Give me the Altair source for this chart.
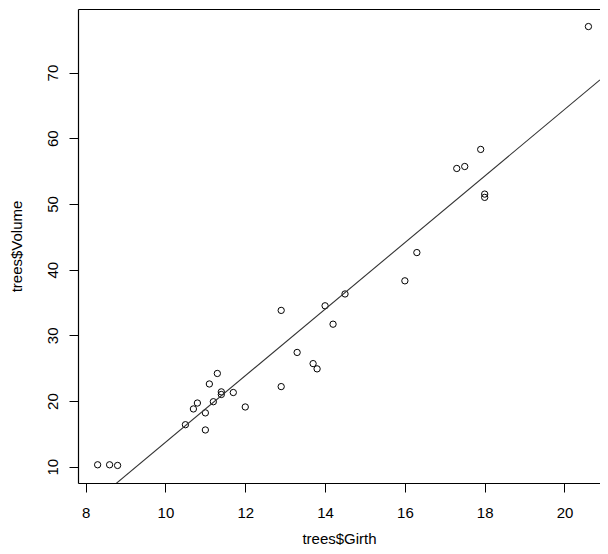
import altair as alt
import pandas as pd

girth = [8.3, 8.6, 8.8, 10.5, 10.7, 10.8, 11.0, 11.0, 11.1, 11.2, 11.3, 11.4, 11.4,
         11.7, 12.0, 12.9, 12.9, 13.3, 13.7, 13.8, 14.0, 14.2, 14.5, 16.0, 16.3,
         17.3, 17.5, 17.9, 18.0, 18.0, 20.6]
volume = [10.3, 10.3, 10.2, 16.4, 18.8, 19.7, 15.6, 18.2, 22.6, 19.9, 24.2, 21.0,
          21.4, 21.3, 19.1, 22.2, 33.8, 27.4, 25.7, 24.9, 34.5, 31.7, 36.3, 38.3,
          42.6, 55.4, 55.7, 58.3, 51.5, 51.0, 77.0]
x_ticks = [8, 10, 12, 14, 16, 18, 20]
y_ticks = [10, 20, 30, 40, 50, 60, 70]

df = pd.DataFrame({"Girth": girth, "Volume": volume})

# visible part of the R plot region (right side cropped in the reference)
x_dom = [7.808, 20.89]
y_dom = [7.528, 79.672]
FONT = "Liberation Sans"

x_scale = alt.Scale(domain=x_dom, nice=False, zero=False)
y_scale = alt.Scale(domain=y_dom, nice=False, zero=False)

x_enc = alt.X("Girth:Q", scale=x_scale,
              axis=alt.Axis(values=x_ticks, title="trees$Girth", grid=False,
                            domain=True, domainColor="black", domainWidth=1.2,
                            tickSize=9, tickColor="black", tickWidth=1,
                            labelFontSize=15, labelFont=FONT, labelColor="black",
                            labelBaseline="alphabetic", labelPadding=25,
                            labelFlush=False,
                            titleFontSize=15, titleFont=FONT, titleFontWeight="normal",
                            titleColor="black", titleY=55, titleBaseline="middle"))
y_enc = alt.Y("Volume:Q", scale=y_scale,
              axis=alt.Axis(values=y_ticks, title="trees$Volume", grid=False,
                            domain=True, domainColor="black", domainWidth=1.2,
                            tickSize=9, tickColor="black", tickWidth=1,
                            labelFontSize=15, labelFont=FONT, labelColor="black",
                            labelAngle=-90, labelAlign="center",
                            labelBaseline="alphabetic", labelPadding=12,
                            labelFlush=False,
                            titleFontSize=15, titleFont=FONT, titleFontWeight="normal",
                            titleColor="black", titleX=-62, titleBaseline="middle",
                            titleAngle=-90))

points = alt.Chart(df).mark_point(shape="circle", filled=False, color="black",
                                  strokeWidth=1, size=40, opacity=1).encode(
    x=x_enc, y=y_enc)

line = alt.Chart(df).transform_regression(
    "Girth", "Volume", extent=x_dom
).mark_line(color="#333333", strokeWidth=1.1, clip=True).encode(
    x=alt.X("Girth:Q", scale=x_scale,
            axis=alt.Axis(orient="top", title=None, labels=False, ticks=False,
                          grid=False, domain=True, domainColor="black",
                          domainWidth=1.2)),
    y=alt.Y("Volume:Q", scale=y_scale))

chart = alt.layer(points, line).resolve_axis(x="independent").properties(
    width=522, height=474,
    autosize=alt.AutoSizeParams(type="none"),
    padding={"left": 70, "top": 1, "right": 0, "bottom": 64},
).configure_view(stroke=None).configure(background="white")

chart.save("out.html", embed_options={"renderer": "svg", "actions": False})
